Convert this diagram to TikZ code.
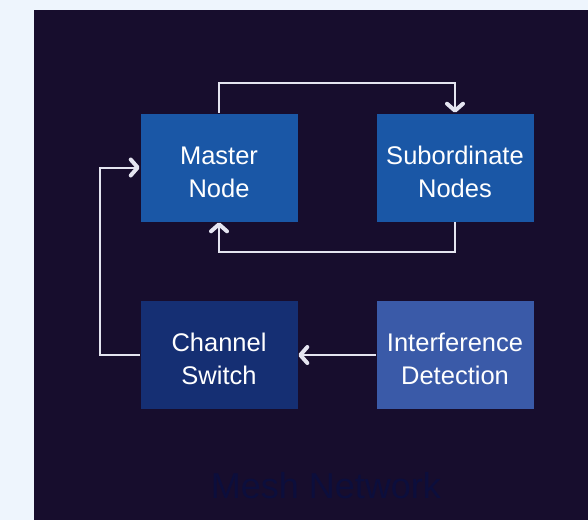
\documentclass[tikz,border=0pt]{standalone}
\usepackage{fontspec}
\setmainfont{Liberation Sans}
\usetikzlibrary{arrows.meta}

\definecolor{pagebg}{HTML}{EEF5FD}
\definecolor{panelbg}{HTML}{170D2D}
\definecolor{mainblue}{HTML}{1A57A6}
\definecolor{darkblue}{HTML}{152F73}
\definecolor{softblue}{HTML}{3A5AA8}
\definecolor{wirecol}{HTML}{E4E4F0}
\definecolor{titlecol}{HTML}{0C0E3C}

\tikzset{
  unitbox/.style={draw=panelbg, line width=0.6pt, minimum width=158pt, minimum height=109pt,
    align=center, text=white, font=\fontsize{25.5}{33}\selectfont, text height=60pt},
  wire/.style={draw=wirecol, line width=2pt,
    -{Straight Barb[length=7pt,width=16pt,line width=4pt,round]}},
}

\begin{document}
\begin{tikzpicture}[x=1pt,y=-1pt]

% background and panel
\useasboundingbox (0,0) rectangle (588,520);
\fill[pagebg] (0,0) rectangle (588,520);
\fill[panelbg] (34,10) rectangle (588,520);

% upper row
\node[unitbox, fill=mainblue] (master) at (219,167.5) {Master\\Node};
\node[unitbox, fill=mainblue] (subord) at (455,167.5) {Subordinate\\Nodes};

% lower row
\node[unitbox, fill=darkblue] (switch) at (219,355) {Channel\\Switch};
\node[unitbox, fill=softblue] (detect) at (455,355) {Interference\\Detection};

% links
\draw[wire] (master.north) -- ++(0,-30) -| (subord.north);
\draw[wire] (subord.south) -- ++(0,30) -| (master.south);
\draw[wire] (detect.west) -- (switch.east);
\draw[wire] (switch.west) -- ++(-40,0) |- (master.west);

% title
\node[text=titlecol, font=\fontsize{36}{40}\selectfont] (title) at (326,486) {Mesh Network};

\end{tikzpicture}
\end{document}
